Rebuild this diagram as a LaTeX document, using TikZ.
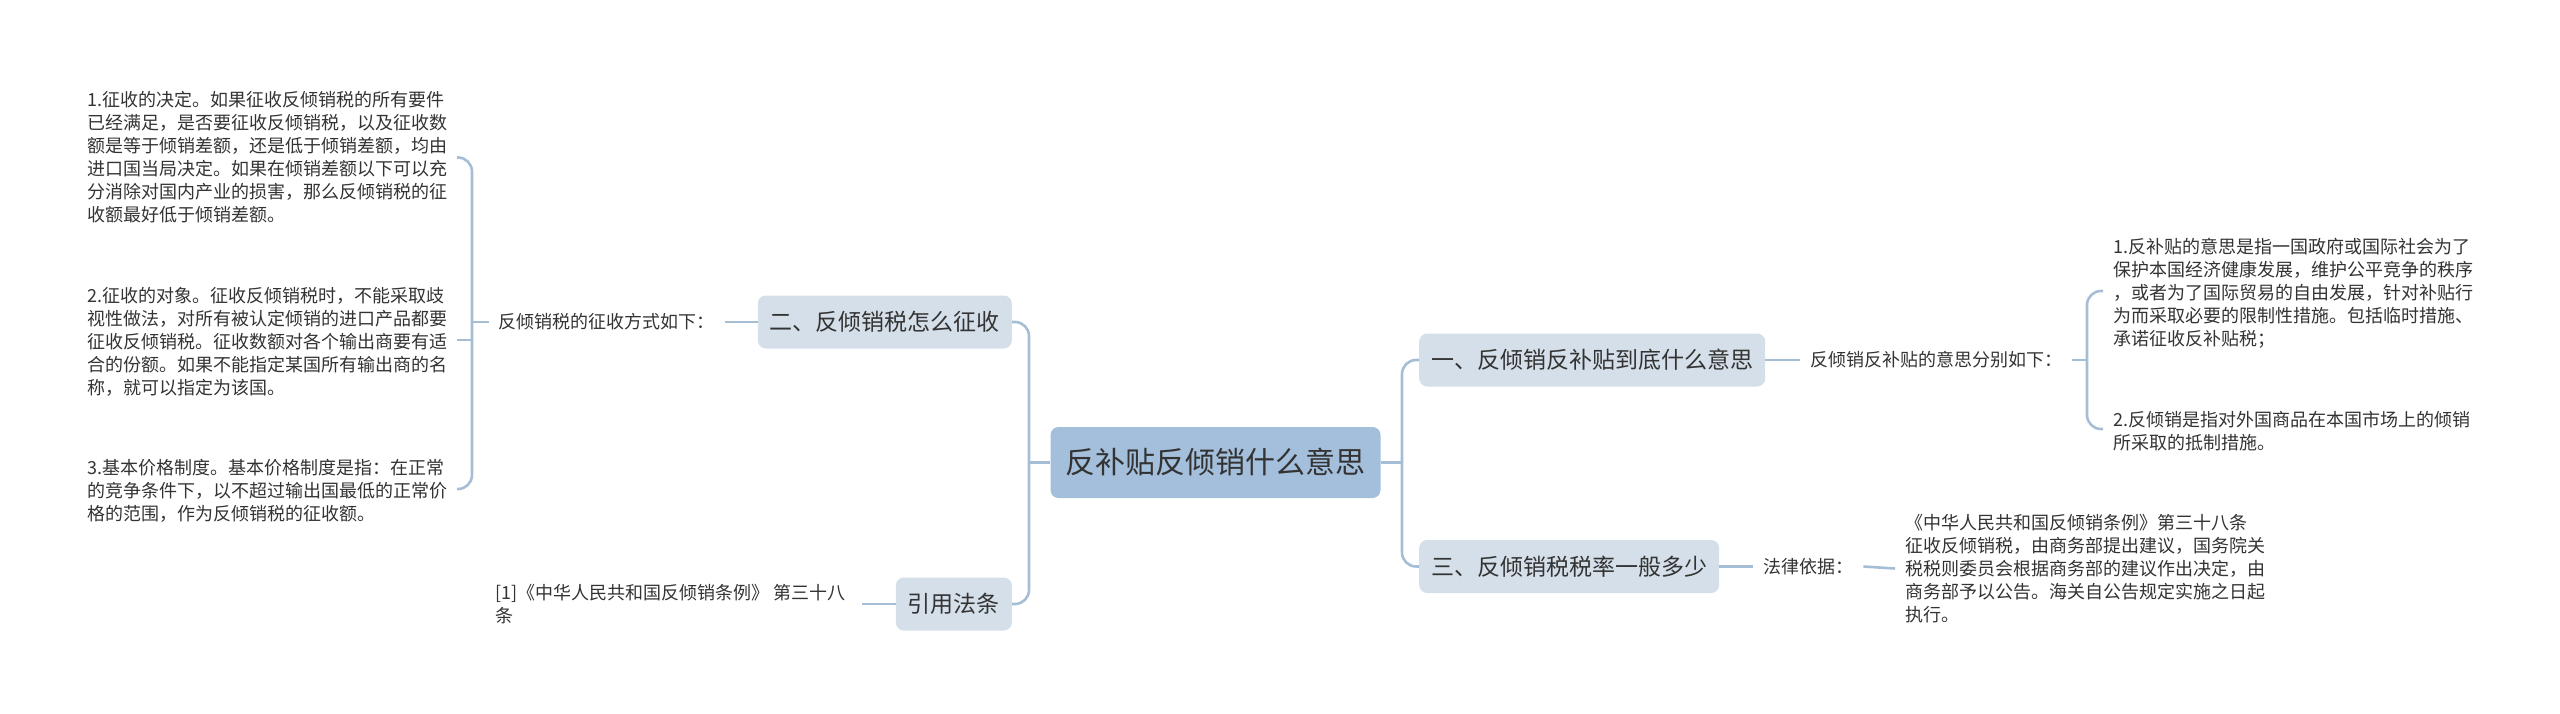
\documentclass[tikz,border=0pt]{standalone}
\usepackage{fontspec}
\setmainfont{Noto Sans CJK SC}
\usetikzlibrary{calc}
\definecolor{linec}{HTML}{A6BDD6}
\definecolor{rootfill}{HTML}{A3BFDB}
\definecolor{boxfill}{HTML}{D4DFE9}
\definecolor{txt}{HTML}{333333}
\tikzset{
  conn/.style={draw=linec, line width=2.6pt, rounded corners=14pt},
  rootbox/.style={fill=rootfill, rounded corners=8pt, text=txt, inner xsep=15pt, minimum height=71pt,
    font=\fontsize{30}{34}\selectfont},
  subbox/.style={fill=boxfill, rounded corners=8pt, text=txt, inner xsep=12pt, minimum height=53pt,
    font=\fontsize{23}{27}\selectfont},
  leaf/.style={text=txt, inner xsep=10pt, inner ysep=0pt, align=left,
    font=\fontsize{18}{23}\selectfont},
  lbl/.style={text=txt, inner xsep=10pt, inner ysep=0pt,
    font=\fontsize{18}{23}\selectfont},
}
\begin{document}
\begin{tikzpicture}[x=1pt,y=-1pt]
\useasboundingbox (0,0) rectangle (2560,713);
% root
\node[rootbox] (root) at (1215.5,462.5) {反补贴反倾销什么意思};
% left subnodes
\node[subbox, anchor=east] (b2) at (1012,322) {二、反倾销税怎么征收};
\node[subbox, anchor=east] (ref) at (1012,604) {引用法条};
% right subnodes
\node[subbox, anchor=west] (b1) at (1419,360) {一、反倾销反补贴到底什么意思};
\node[subbox, anchor=west] (b3) at (1419,566.5) {三、反倾销税税率一般多少};
% trunks
\coordinate (tL) at (1029,462.5);
\coordinate (tR) at (1402,462.5);
\draw[conn] (b2.east) -| (tL) |- (ref.east);
\draw[conn] (root.west) -- (tL);
\draw[conn] (b1.west) -| (tR) |- (b3.west);
\draw[conn] (root.east) -- (tR);
% left branch: labels
\node[lbl, anchor=east] (lab2) at (725,322) {反倾销税的征收方式如下：};
\draw[conn] (b2.west) -- (lab2.east);
\node[leaf, anchor=west] (l1) at (77,157.5) {1.征收的决定。如果征收反倾销税的所有要件\\已经满足，是否要征收反倾销税，以及征收数\\额是等于倾销差额，还是低于倾销差额，均由\\进口国当局决定。如果在倾销差额以下可以充\\分消除对国内产业的损害，那么反倾销税的征\\收额最好低于倾销差额。};
\node[leaf, anchor=west] (l2) at (77,341.5) {2.征收的对象。征收反倾销税时，不能采取歧\\视性做法，对所有被认定倾销的进口产品都要\\征收反倾销税。征收数额对各个输出商要有适\\合的份额。如果不能指定某国所有输出商的名\\称，就可以指定为该国。};
\node[leaf, anchor=west] (l3) at (77,491) {3.基本价格制度。基本价格制度是指：在正常\\的竞争条件下，以不超过输出国最低的正常价\\格的范围，作为反倾销税的征收额。};
\coordinate (bL) at (472,322);
\coordinate (l1e) at (457,157.5);
\coordinate (l2e) at (457,340);
\coordinate (l3e) at (457,489);
\draw[conn] (l1e) -| (bL) |- (l3e);
\draw[conn] (l2e) -- (l2e -| bL);
\draw[conn] (bL) -- (lab2.west);
% reference
\node[leaf, anchor=west] (lab4) at (485,604) {[1]《中华人民共和国反倾销条例》 第三十八\\条};
\coordinate (lab4e) at (862,604);
\draw[conn] (ref.west) -- (lab4e);
% right branch 1
\node[lbl, anchor=west] (lab1) at (1800,360) {反倾销反补贴的意思分别如下：};
\draw[conn] (b1.east) -- (lab1.west);
\node[leaf, anchor=west] (r1) at (2103,293) {1.反补贴的意思是指一国政府或国际社会为了\\保护本国经济健康发展，维护公平竞争的秩序\\，或者为了国际贸易的自由发展，针对补贴行\\为而采取必要的限制性措施。包括临时措施、\\承诺征收反补贴税；};
\node[leaf, anchor=west] (r2) at (2103,431.5) {2.反倾销是指对外国商品在本国市场上的倾销\\所采取的抵制措施。};
\coordinate (bR) at (2087,360);
\coordinate (r1w) at (2103,291);
\coordinate (r2w) at (2103,429);
\draw[conn] (r1w) -| (bR) |- (r2w);
\draw[conn] (lab1.east) -- (bR);
% right branch 3
\node[lbl, anchor=west] (lab3) at (1753,566.5) {法律依据：};
\draw[conn] (b3.east) -- (lab3.west);
\node[leaf, anchor=west] (law) at (1895,568.5) {《中华人民共和国反倾销条例》第三十八条\\征收反倾销税，由商务部提出建议，国务院关\\税税则委员会根据商务部的建议作出决定，由\\商务部予以公告。海关自公告规定实施之日起\\执行。};
\draw[conn] (lab3.east) -- (law.west);
\end{tikzpicture}
\end{document}
